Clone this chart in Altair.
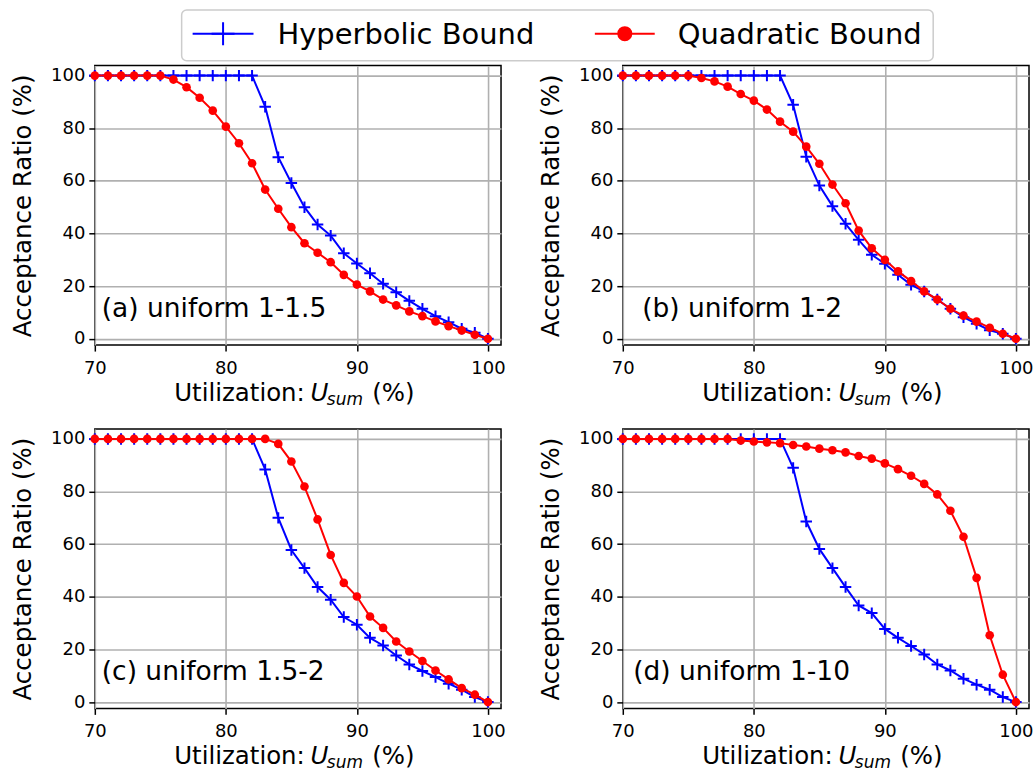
import altair as alt
import pandas as pd

# Utilization levels on the x axis (%)
utilization = [70, 71, 72, 73, 74, 75, 76, 77, 78, 79, 80,
               81, 82, 83, 84, 85, 86, 87, 88, 89, 90,
               91, 92, 93, 94, 95, 96, 97, 98, 99, 100]

# Acceptance ratios (%) per task-set distribution
hyperbolic_a = [100, 100, 100, 100, 100, 100, 100, 100, 100, 100, 100, 100, 100,
                88.2, 69.0, 59.2, 50.0, 43.4, 39.2, 32.5, 28.6, 24.9, 20.9,
                17.7, 14.4, 11.4, 8.6, 6.3, 3.8, 2.3, 0.0]
quadratic_a = [100, 100, 100, 100, 100, 100,
               98.5, 95.6, 91.6, 86.7, 80.6, 74.3, 66.7, 56.7, 49.4, 42.4,
               36.3, 32.7, 29.1, 24.3, 20.6, 18.0, 14.9, 12.7, 10.4, 8.6,
               6.6, 4.8, 3.2, 1.5, 0.0]

hyperbolic_b = [100, 100, 100, 100, 100, 100, 100, 100, 100, 100, 100, 100, 100,
                88.9, 69.2, 58.2, 50.4, 43.7, 37.6, 31.9, 28.5, 24.3, 20.5,
                18.0, 14.9, 11.4, 8.2, 5.7, 3.2, 1.9, 0.0]
quadratic_b = [100, 100, 100, 100, 100, 100,
               99.1, 97.8, 95.8, 93.0, 90.5, 87.1, 82.5, 78.7, 73.0, 66.5,
               58.6, 51.5, 41.1, 34.4, 30.0, 25.6, 21.9, 18.0, 14.9, 11.4,
               8.8, 6.5, 4.2, 1.9, 0.0]

hyperbolic_c = [100, 100, 100, 100, 100, 100, 100, 100, 100, 100, 100, 100, 100,
                88.4, 70.0, 57.8, 50.9, 43.7, 38.9, 32.3, 29.4, 24.4, 21.5,
                17.7, 14.3, 11.8, 9.5, 7.0, 4.7, 1.9, 0.0]
quadratic_c = [100, 100, 100, 100, 100, 100, 100, 100, 100, 100, 100, 100, 100, 100,
               98.1, 91.4, 81.9, 69.4, 55.9, 45.3, 40.1, 32.5, 28.2, 23.0,
               19.2, 15.6, 12.0, 8.6, 5.3, 2.8, 0.0]

hyperbolic_d = [100, 100, 100, 100, 100, 100, 100, 100, 100, 100, 100, 100, 100,
                89.0, 68.6, 58.2, 50.9, 43.7, 36.7, 33.8, 27.8, 24.4, 21.3,
                18.1, 14.3, 12.0, 8.9, 6.6, 4.7, 1.9, 0.0]
quadratic_d = [100, 100, 100, 100, 100, 100, 100, 100, 100,
               99.4, 99.0, 98.7, 98.4, 97.7, 97.1, 96.3, 95.7, 94.9, 93.5,
               92.5, 90.7, 88.5, 86.0, 82.9, 78.9, 72.7, 62.8, 47.2, 25.4,
               10.4, 0.0]

panel_labels = ["(a) uniform 1-1.5", "(b) uniform 1-2",
                "(c) uniform 1.5-2", "(d) uniform 1-10"]
series_names = ["Hyperbolic Bound", "Quadratic Bound"]
x_ticks = [70, 80, 90, 100]
y_ticks = [0, 20, 40, 60, 80, 100]

FONT = "DejaVu Sans"
BLUE = "#0000ff"
RED = "#ff0000"
PLUS = "M-1,0L1,0M0,-1L0,1"
W, H = 407, 280

one_row = alt.Data(values=[{}])

x_enc = alt.X(
    "u:Q",
    scale=alt.Scale(domain=[70, 101], nice=False, zero=False),
    axis=alt.Axis(values=x_ticks, title=None, labelPadding=8, labelFlush=False),
)


def y_enc(field):
    return alt.Y(
        f"{field}:Q",
        scale=alt.Scale(domain=[-2.4, 103.8], nice=False, zero=False),
        axis=alt.Axis(
            values=y_ticks,
            title="Acceptance Ratio (%)",
            titleX=-64.5,
            titleY=H / 2,
            titleAngle=270,
            titleAlign="center",
            titleBaseline="alphabetic",
            labelPadding=4,
        ),
    )


def note(text, x, y, size, style="normal"):
    return alt.Chart(one_row).mark_text(
        text=text, font=FONT, fontSize=size, fontStyle=style,
        align="left", baseline="alphabetic", color="black",
    ).encode(x=alt.value(x), y=alt.value(y))


def legend_layers():
    box = alt.Chart(one_row).mark_rect(
        fill="white", stroke="#cccccc", strokeWidth=1.5, cornerRadius=5
    ).encode(x=alt.value(87), x2=alt.value(840), y=alt.value(-55.7), y2=alt.value(-5))
    blue_rule = alt.Chart(one_row).mark_rule(color=BLUE, strokeWidth=2).encode(
        x=alt.value(98), x2=alt.value(159), y=alt.value(-32))
    blue_mark = alt.Chart(one_row).mark_point(
        shape=PLUS, color=BLUE, filled=False, strokeWidth=2, size=529, opacity=1
    ).encode(x=alt.value(128.5), y=alt.value(-32))
    red_rule = alt.Chart(one_row).mark_rule(color=RED, strokeWidth=2).encode(
        x=alt.value(501), x2=alt.value(561), y=alt.value(-32))
    red_mark = alt.Chart(one_row).mark_circle(color=RED, size=227, opacity=1).encode(
        x=alt.value(531), y=alt.value(-32))
    return [box, blue_rule, blue_mark, red_rule, red_mark,
            note(series_names[0], 183, -21.3, 29),
            note(series_names[1], 584, -21.3, 29)]


def panel(hyper, quad, label, label_x, with_legend=False):
    df = pd.DataFrame({"u": utilization, "hyper": hyper, "quad": quad})
    base = alt.Chart(df)
    layers = [
        base.mark_line(color=BLUE, strokeWidth=2).encode(x=x_enc, y=y_enc("hyper")),
        base.mark_point(shape=PLUS, color=BLUE, filled=False, strokeWidth=2,
                        size=132, opacity=1).encode(x=x_enc, y=y_enc("hyper")),
        base.mark_line(color=RED, strokeWidth=2).encode(x=x_enc, y=y_enc("quad")),
        base.mark_circle(color=RED, size=75, opacity=1).encode(x=x_enc, y=y_enc("quad")),
        note(label, label_x, 252, 26.5),
        # x-axis title: Utilization: U_sum (%)
        note("Utilization:", 79.5, H + 56, 24.5),
        note("U", 216, H + 56, 24.5, "italic"),
        note("sum", 232.5, H + 60, 17, "italic"),
        note("(%)", 278, H + 56, 24.5),
    ]
    if with_legend:
        layers += legend_layers()
    return alt.layer(*layers).properties(width=W, height=H)


chart = alt.concat(
    panel(hyperbolic_a, quadratic_a, panel_labels[0], 7, with_legend=True),
    panel(hyperbolic_b, quadratic_b, panel_labels[1], 19.5),
    panel(hyperbolic_c, quadratic_c, panel_labels[2], 7),
    panel(hyperbolic_d, quadratic_d, panel_labels[3], 10.5),
    columns=2,
    spacing=alt.RowColnumber(row=84, column=122),
    bounds="flush",
).properties(
    padding={"left": 9, "top": 7, "right": 0, "bottom": 0},
    background="white",
).configure_view(
    stroke="black", strokeWidth=1.5
).configure_axis(
    grid=True, gridColor="#b0b0b0", gridWidth=1.6,
    domain=False,
    ticks=True, tickColor="black", tickWidth=1.5, tickSize=6,
    labelFont=FONT, labelFontSize=18, labelColor="black",
    titleFont=FONT, titleFontSize=24.5, titleColor="black", titleFontWeight="normal",
)

chart.save("out.html", embed_options={"renderer": "svg", "actions": False})
